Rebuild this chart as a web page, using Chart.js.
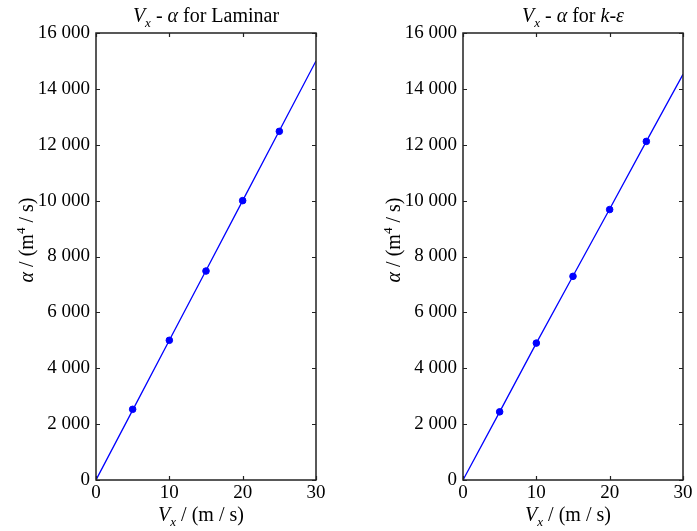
<!DOCTYPE html>
<html>
<head>
<meta charset="utf-8">
<script src="https://cdn.jsdelivr.net/npm/chart.js@4.4.0/dist/chart.umd.min.js"></script>
<style>
  body { margin: 0; background: #fff; }
  .wrap { position: absolute; top: 0; width: 330px; height: 531px; }
</style>
</head>
<body>
<div class="wrap" style="left:0"><canvas id="laminar"></canvas></div>
<div class="wrap" style="left:367px"><canvas id="keps"></canvas></div>
<script>
// velocity (m/s) where the curve was sampled
const vx = [0, 5, 10, 15, 20, 25, 30];
const laminarAlpha = [0, 2500, 5000, 7500, 10000, 12500, 15000];
const kEpsAlpha = [0, 2440, 4900, 7300, 9700, 12120, 14520];

// marked points
const markVx = [5, 10, 15, 20, 25];
const laminarMarks = [2530, 5000, 7480, 10000, 12480];
const kEpsMarks = [2440, 4900, 7290, 9680, 12120];

const yTicks = [0, 2000, 4000, 6000, 8000, 10000, 12000, 14000, 16000];
const xTicks = [0, 10, 20, 30];

const serif = "'Liberation Serif', 'Times New Roman', serif";

function pairs(xs, ys) {
  return xs.map((v, i) => ({ x: v, y: ys[i] }));
}

// draws a run of text pieces (italic / subscript / superscript) centred on cx
function drawRich(ctx, parts, cx, cy, size, rotate) {
  ctx.save();
  ctx.translate(cx, cy);
  if (rotate) ctx.rotate(-Math.PI / 2);
  ctx.fillStyle = '#000';
  ctx.textBaseline = 'alphabetic';
  let total = 0;
  const fontOf = p => {
    const s = p.sub || p.sup ? size * 0.65 : size;
    return (p.it ? 'italic ' : '') + s + 'px ' + serif;
  };
  parts.forEach(p => { ctx.font = fontOf(p); total += ctx.measureText(p.t).width; });
  let x = -total / 2;
  parts.forEach(p => {
    ctx.font = fontOf(p);
    let dy = size * 0.33;
    if (p.sub) dy += size * 0.25;
    if (p.sup) dy -= size * 0.4;
    ctx.fillText(p.t, x, dy);
    x += ctx.measureText(p.t).width;
  });
  ctx.restore();
}

const boxPlugin = {
  id: 'box',
  afterDraw(chart) {
    const { ctx, chartArea: a, scales } = chart;
    const x = scales.x, y = scales.y;
    ctx.save();
    ctx.strokeStyle = '#222';
    ctx.lineWidth = 1.5;
    ctx.strokeRect(a.left, a.top, a.right - a.left, a.bottom - a.top);
    ctx.lineWidth = 1.2;
    ctx.beginPath();
    yTicks.forEach(v => {
      const py = Math.round(y.getPixelForValue(v)) + 0.5;
      ctx.moveTo(a.left, py); ctx.lineTo(a.left + 4, py);
      ctx.moveTo(a.right, py); ctx.lineTo(a.right - 4, py);
    });
    xTicks.forEach(v => {
      const px = Math.round(x.getPixelForValue(v)) + 0.5;
      ctx.moveTo(px, a.bottom); ctx.lineTo(px, a.bottom - 4);
      ctx.moveTo(px, a.top); ctx.lineTo(px, a.top + 4);
    });
    ctx.stroke();
    ctx.restore();

    const cx = (a.left + a.right) / 2;
    drawRich(ctx, chart.options.plugins.box.title, cx, 15, 20, false);
    drawRich(ctx, [
      { t: 'V', it: true }, { t: 'x', it: true, sub: true }, { t: ' / (m / s)' }
    ], cx - 5, 514, 20, false);
    drawRich(ctx, [
      { t: 'α', it: true }, { t: ' / (m' }, { t: '4', sup: true }, { t: ' / s)' }
    ], 26, 240, 20, true);
  }
};

function makeChart(id, lineVals, markVals, title) {
  return new Chart(document.getElementById(id), {
    type: 'scatter',
    data: {
      datasets: [
        {
          data: pairs(vx, lineVals),
          showLine: true,
          borderColor: '#0000ff',
          borderWidth: 1.3,
          pointRadius: 0,
          tension: 0
        },
        {
          data: pairs(markVx, markVals),
          showLine: false,
          backgroundColor: '#0000ff',
          borderColor: '#0000ff',
          pointStyle: 'circle',
          pointRadius: 3.3
        }
      ]
    },
    options: {
      responsive: false,
      animation: false,
      devicePixelRatio: 1,
      layout: { padding: { top: 33, right: 14, left: 0, bottom: 0 } },
      plugins: {
        legend: { display: false },
        tooltip: { enabled: false },
        box: { title: title }
      },
      scales: {
        x: {
          type: 'linear',
          min: 0, max: 30,
          afterFit: s => { s.height = 51; },
          afterBuildTicks: s => { s.ticks = xTicks.map(v => ({ value: v })); },
          grid: { display: false, drawTicks: false },
          border: { display: false },
          ticks: { color: '#000', padding: 2, maxRotation: 0, font: { family: serif, size: 19 } }
        },
        y: {
          type: 'linear',
          min: 0, max: 16000,
          afterFit: s => { s.width = 96; },
          afterBuildTicks: s => { s.ticks = yTicks.map(v => ({ value: v })); },
          grid: { display: false, drawTicks: false },
          border: { display: false },
          ticks: {
            color: '#000', padding: 6,
            font: { family: serif, size: 19 },
            callback: v => v >= 1000 ? Math.floor(v / 1000) + ' ' + String(v % 1000).padStart(3, '0') : String(v)
          }
        }
      }
    },
    plugins: [boxPlugin]
  });
}

document.getElementById('laminar').width = 330;
document.getElementById('laminar').height = 531;
document.getElementById('keps').width = 330;
document.getElementById('keps').height = 531;

makeChart('laminar', laminarAlpha, laminarMarks, [
  { t: 'V', it: true }, { t: 'x', it: true, sub: true }, { t: ' - ' },
  { t: 'α', it: true }, { t: ' for Laminar' }
]);
makeChart('keps', kEpsAlpha, kEpsMarks, [
  { t: 'V', it: true }, { t: 'x', it: true, sub: true }, { t: ' - ' },
  { t: 'α', it: true }, { t: ' for ' }, { t: 'k', it: true }, { t: '-' }, { t: 'ε', it: true }
]);
</script>
</body>
</html>
